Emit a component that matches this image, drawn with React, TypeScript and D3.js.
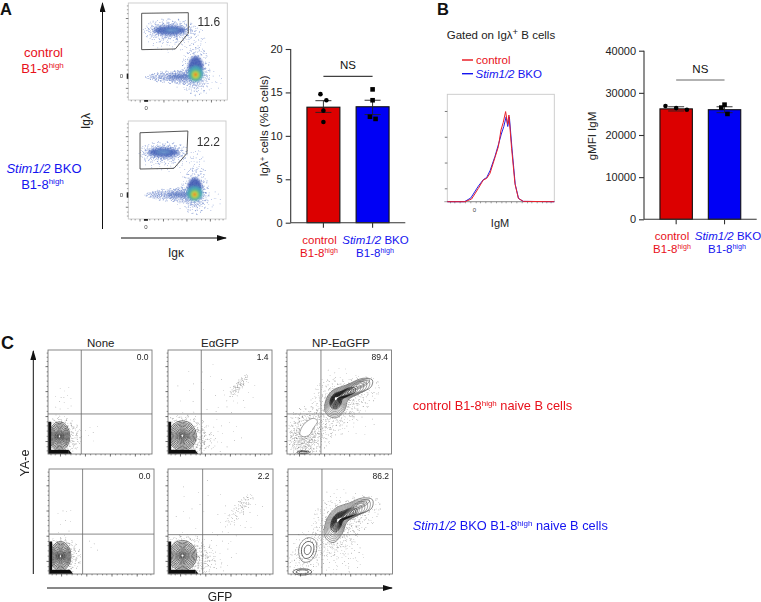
import React, { useEffect, useRef } from 'react';
import * as d3 from 'd3';

const RED = '#e8101a';
const BLUE = '#1414f0';
const FONT = '"Liberation Sans", Arial, sans-serif';

// bar chart values
const groups = ['control', 'Stim1/2 BKO'];
const iglMeans = [13.3, 13.35];
const iglLow = [12.7, 12.45];
const iglHigh = [14.05, 14.1];
const iglControlPts = [14.8, 14.1, 12.9, 11.6];
const iglBkoPts = [15.35, 14.1, 12.2, 11.95];
const iglControlShift = [-0.09, 0.09, 0, 0];
const iglBkoShift = [0, 0, -0.08, 0.09];
const iglTicks = [0, 5, 10, 15, 20];

const igmMeans = [26200, 26000];
const igmLow = [25700, 25300];
const igmHigh = [26700, 26700];
const igmControlPts = [26880, 26400, 26000];
const igmBkoPts = [27200, 26500, 25000];
const igmControlShift = [-0.33, 0, 0.33];
const igmBkoShift = [0, -0.1, 0.09];
const igmTicks = [0, 10000, 20000, 30000, 40000];

// histogram, x and y as % of the plot box
const histControl: [number, number][] = [[0, 0], [16.5, 0], [22.7, 2.5], [29, 12.4], [33.6, 20.2], [36.8, 21.7], [39.9, 26.4], [44.5, 41], [47.7, 51.2], [50.2, 66.8], [52.3, 73.9], [54.5, 83.9], [56.4, 72], [57.6, 80.7], [60.1, 49.7], [63.2, 17], [66.4, 3.1], [71, 0.3], [100, 0]];
const histBko: [number, number][] = [[0, 0], [16, 0], [22, 3.5], [29, 14.5], [33.6, 20.5], [36.8, 22.5], [40, 29], [44.5, 42], [48, 54], [50.5, 63], [52.8, 70], [55, 79], [56.5, 70], [58, 79], [60.5, 49], [63.5, 16], [66.6, 3], [71, 0.3], [100, 0]];

// flow plots: everything in % of the plot box
const speckle: [number, number][] = [
  [0.12, -0.08], [-0.31, 0.22], [0.45, 0.37], [-0.62, -0.41], [0.08, 0.71], [0.83, -0.27], [-0.19, -0.66], [0.33, -0.52], [-0.77, 0.18], [0.58, 0.06],
  [-0.05, 0.29], [0.21, 0.14], [-0.42, -0.13], [0.67, -0.59], [-0.53, 0.61], [0.02, -0.93], [0.91, 0.31], [-0.94, -0.16], [0.29, 0.88], [-0.27, 0.49],
  [0.39, -0.21], [-0.11, -0.34], [0.16, -0.41], [-0.68, 0.37], [0.51, 0.68], [-0.36, -0.84], [0.74, 0.12], [-0.14, 0.06], [0.06, 0.44], [-0.49, -0.28],
  [0.26, -0.72], [-0.85, -0.47], [0.62, -0.38], [-0.24, 0.83], [0.44, 0.19], [-0.58, 0.04], [0.11, -0.19], [-0.08, -0.52], [0.78, 0.54], [-0.72, 0.66],
  [0.35, 0.53], [-0.39, 0.33], [0.18, 0.31], [0.54, -0.11], [-0.17, -0.12], [-0.02, 0.13], [0.31, 0.02], [-0.29, -0.47], [0.47, -0.67], [-0.63, -0.69],
  [0.87, -0.06], [-0.46, 0.79], [0.14, 0.59], [-0.33, 0.09], [0.23, -0.29], [0.69, 0.33], [-0.56, -0.03], [0.04, -0.27], [-0.21, 0.38], [0.41, -0.43],
  [-0.09, 0.91], [0.59, 0.47], [-0.81, 0.02], [0.28, -0.91], [-0.44, 0.17], [0.09, 0.22], [-0.26, -0.22], [0.37, 0.27], [-0.12, 0.62], [0.49, -0.29],
];

type Cloud = [number, number, number, number, number, number, number];
type Blob = [number, number, number, number, number, string, number];

const gateTop: [number, number][] = [[13.5, 89.4], [60.6, 90], [60.6, 68.8], [47.5, 52.6], [13.5, 51.9]];
const gateBottom: [number, number][] = [[12, 88], [61, 89.8], [60, 67], [46.7, 51.7], [12, 51]];

// cx, cy, rx, ry, tilt, spin, count
const densityCloudsTop: Cloud[] = [
  [42, 72, 28, 13, 0, 0, 70], [42, 72, 23, 9, 0, 40, 70], [40, 62, 22, 13, 0, 80, 30], [42, 72, 19, 6.5, 0, 130, 70],
  [68, 30, 15, 26, 0, 20, 70], [68, 26, 12, 14, 0, 70, 70], [70, 50, 9, 28, 0, 110, 40], [45, 24, 24, 7, 0, 15, 70], [36, 24, 20, 4, 0, 150, 50], [56, 24, 16, 8, 0, 60, 70],
  [70, 20, 26, 14, 0, 100, 30], [60, 62, 10, 18, 0, 55, 18],
];
const densityCloudsBottom: Cloud[] = [
  [36, 68, 26, 12, 0, 10, 70], [36, 68, 21, 8, 0, 55, 70], [36, 60, 22, 12, 0, 95, 30], [36, 68, 17, 6, 0, 140, 70],
  [68, 28, 15, 24, 0, 30, 70], [68, 25, 12, 13, 0, 85, 70], [70, 47, 9, 26, 0, 120, 40], [45, 25, 24, 7, 0, 25, 70], [34, 25, 18, 4, 0, 165, 50], [56, 25, 16, 8, 0, 75, 70],
  [70, 20, 26, 14, 0, 115, 30], [58, 58, 10, 16, 0, 65, 18],
];
// cx, cy, rx, ry, tilt, colour, opacity
const blobsTop: Blob[] = [
  [42, 72, 16, 4.4, 0, '#3d5cb4', 0.8], [44, 72, 7, 2, 0, '#6ea0cf', 0.65],
  [52, 24, 12, 2.2, 0, '#4a68b8', 0.6], [68, 33, 7.5, 12, 0, '#3552ae', 0.85], [68, 27, 7.5, 8, 0, '#4aa5b8', 1],
  [68, 26, 5, 5.5, 0, '#66c46a', 1], [68, 26, 3, 3.2, 0, '#d8d83c', 1], [68, 26, 1.4, 1.5, 0, '#e8301e', 1],
];
const blobsBottom: Blob[] = [
  [36, 68, 15, 4.2, 0, '#3d5cb4', 0.8], [36, 68.5, 7, 1.9, 0, '#6ea0cf', 0.65],
  [52, 25, 12, 2.2, 0, '#4a68b8', 0.6], [68, 31, 7.5, 11, 0, '#3552ae', 0.85], [68, 26, 8, 7.5, 0, '#4aa5b8', 1],
  [68, 25, 5.2, 5, 0, '#66c46a', 1], [68, 25, 3, 3, 0, '#d8d83c', 1], [68, 25, 1.4, 1.4, 0, '#e8301e', 1],
];

const ringScales = [1, 0.9, 0.81, 0.72, 0.63, 0.54, 0.46, 0.39, 0.32, 0.26, 0.2, 0.15, 0.1];
const npRingScales = [0.92, 0.84, 0.76, 0.68, 0.6, 0.54, 0.49, 0.44, 0.4, 0.36, 0.32, 0.28, 0.24, 0.2, 0.16, 0.12];
const tailScales = [1, 0.72, 0.45];

const noneTopClouds: Cloud[] = [[11, 17, 22, 19, 0, 0, 70], [11, 17, 18, 17, 0, 50, 70], [8, 10, 14, 12, 0, 100, 40], [14, 50, 9, 20, 0, 30, 18], [42, 20, 10, 10, 0, 70, 6]];
const noneBottomClouds: Cloud[] = [[11, 17, 20, 19, 0, 20, 70], [11, 17, 16, 16, 0, 70, 70], [8, 10, 12, 12, 0, 120, 40], [14, 50, 10, 18, 0, 60, 10], [42, 28, 10, 8, 0, 90, 4]];
const eaTopClouds: Cloud[] = [
  [15, 17, 28, 22, 0, 10, 70], [14, 17, 22, 20, 0, 60, 70], [14, 15, 24, 15, 0, 110, 70], [18, 12, 30, 12, 0, 150, 40],
  [68, 66, 14, 4, 50, 0, 40], [68, 66, 9, 3, 50, 90, 20], [30, 62, 26, 30, 0, 40, 18], [50, 18, 22, 16, 0, 80, 19], [68, 55, 26, 14, 45, 130, 17],
];
const eaBottomClouds: Cloud[] = [
  [16, 17, 29, 22, 0, 30, 70], [14, 17, 24, 20, 0, 75, 70], [15, 14, 26, 15, 0, 125, 70], [20, 10, 32, 12, 0, 170, 40],
  [68, 62, 20, 6, 48, 20, 40], [72, 67, 8, 4, 48, 100, 20], [30, 58, 28, 34, 0, 55, 20], [48, 18, 18, 16, 0, 95, 20], [68, 52, 28, 16, 45, 145, 20],
];
const npTopClouds: Cloud[] = [
  [46, 50, 24, 24, 0, 0, 70], [62, 55, 30, 17, 30, 40, 70], [48, 42, 22, 24, 0, 90, 40], [22, 24, 20, 24, 30, 15, 70], [18, 18, 16, 20, 10, 70, 70], [14, 12, 13, 14, 0, 120, 60],
  [35, 30, 16, 16, 0, 160, 40], [60, 30, 26, 15, 0, 35, 20], [50, 72, 18, 12, 0, 110, 20],
];
const npBottomClouds: Cloud[] = [
  [46, 48, 24, 24, 0, 10, 70], [62, 55, 30, 17, 30, 50, 70], [45, 36, 20, 22, 0, 100, 40], [20, 24, 16, 18, 30, 25, 40], [14, 12, 14, 14, 0, 130, 40],
  [35, 30, 16, 14, 0, 170, 40], [50, 18, 24, 18, 0, 45, 40], [50, 72, 18, 10, 0, 120, 20],
];

const npTopOutline: [number, number][] = [[36.2, 42.3], [37.8, 53.5], [44.1, 61.5], [56.8, 66.3], [72.7, 72.8], [81.6, 71.2], [80.6, 64.7], [69.5, 58.3], [58.4, 51.9], [55.2, 42.3], [47.3, 34.9], [39.4, 36.9]];
const npBottomOutline: [number, number][] = [[34.5, 38.8], [37.7, 53.2], [45.7, 62.8], [58.5, 67.6], [71.2, 72.4], [80.8, 70.8], [80.2, 62.8], [68, 56.4], [56.8, 50], [52, 38.8], [44, 30.1], [37.7, 32.4]];
const npTopFocus: [number, number] = [46.7, 53.5];
const npBottomFocus: [number, number] = [48.2, 51.6];
const npTopHole: [number, number][] = [[13, 23], [17.1, 29.5], [25.1, 34.3], [29.2, 31.7], [25.1, 24.7], [21.3, 18.3], [15.6, 16.7], [12.4, 18.9]];
const npBottomHole: [number, number][] = [[13, 20], [14, 27], [19, 31], [24, 29], [24.5, 22], [21, 16], [16, 15]];

const flowMajor = [12, 36, 60, 84];
const flowMinor = [3, 7, 17, 22, 27, 31, 41, 46, 51, 55, 65, 70, 75, 79, 89, 93, 97];

type Box = { x0: number; x1: number; y0: number; y1: number };

// each cloud reuses the speckle list a few times, turned by its spin
const speckleDots = (c: Cloud) => {
  const [cx, cy, rx, ry, tilt, spin, count] = c;
  const t = (tilt * Math.PI) / 180;
  const layers = d3.range(Math.ceil(count / 20));
  return layers.flatMap(k => {
    const s = ((spin + k * 37) * Math.PI) / 180;
    return speckle.slice(0, count).map(([dx, dy]) => {
      const px = (dx * Math.cos(s) - dy * Math.sin(s)) * rx;
      const py = (dx * Math.sin(s) + dy * Math.cos(s)) * ry;
      return [cx + px * Math.cos(t) - py * Math.sin(t), cy + px * Math.sin(t) + py * Math.cos(t)];
    });
  });
};

const boxScales = (b: Box) => ({
  x: d3.scaleLinear().domain([0, 100]).range([b.x0, b.x1]),
  y: d3.scaleLinear().domain([0, 100]).range([b.y1, b.y0]),
});

const closed = d3.line().curve(d3.curveCatmullRomClosed.alpha(0.5));

const Frame = ({ box, stroke, tickColor }: { box: Box; stroke: string; tickColor: string }) => {
  const { x, y } = boxScales(box);
  return (
    <g>
      <rect x={box.x0} y={box.y0} width={box.x1 - box.x0} height={box.y1 - box.y0} fill="none" stroke={stroke} strokeWidth={0.9} />
      {flowMajor.map(t => <line key={t} x1={x(t)} x2={x(t)} y1={box.y1} y2={box.y1 + 2.5} stroke={tickColor} strokeWidth={0.7} />)}
      {flowMinor.map(t => <line key={t} x1={x(t)} x2={x(t)} y1={box.y1} y2={box.y1 + 1.4} stroke={tickColor} strokeWidth={0.5} />)}
      {flowMajor.map(t => <line key={t} y1={y(t)} y2={y(t)} x1={box.x0} x2={box.x0 - 2.5} stroke={tickColor} strokeWidth={0.7} />)}
      {flowMinor.map(t => <line key={t} y1={y(t)} y2={y(t)} x1={box.x0} x2={box.x0 - 1.4} stroke={tickColor} strokeWidth={0.5} />)}
    </g>
  );
};

const Dots = ({ box, clouds, fill, size, opacity }: { box: Box; clouds: Cloud[]; fill: string; size: number; opacity: number }) => {
  const { x, y } = boxScales(box);
  const d = clouds.flatMap(c => speckleDots(c))
    .filter(p => p[0] >= 0 && p[0] <= 100 && p[1] >= 0 && p[1] <= 100)
    .map(p => `M${x(p[0]).toFixed(1)},${y(p[1]).toFixed(1)}h${size}v${size}h${-size}z`)
    .join('');
  return <path d={d} fill={fill} opacity={opacity} />;
};

const DensityPlot = ({ box, clouds, blobs, gate, label }: { box: Box; clouds: Cloud[]; blobs: Blob[]; gate: [number, number][]; label: string }) => {
  const { x, y } = boxScales(box);
  const gatePath = d3.line().x(d => x(d[0])).y(d => y(d[1])).curve(d3.curveLinearClosed)(gate) as string;
  return (
    <g>
      <Frame box={box} stroke="#c9c9c9" tickColor="#444" />
      <Dots box={box} clouds={clouds} fill="#4d6cc0" size={0.7} opacity={0.7} />
      <g filter="url(#soft)">
        {blobs.map((b, i) => (
          <ellipse key={i} cx={x(b[0])} cy={y(b[1])} rx={x(b[2]) - x(0)} ry={y(0) - y(b[3])} fill={b[5]} opacity={b[6]} />
        ))}
      </g>
      <path d={gatePath} fill="none" stroke="#444" strokeWidth={0.9} />
      <text x={x(70)} y={y(gate[0][1]) + 13} fontSize={12} fill="#333" fontFamily={FONT}>{label}</text>
      <text x={box.x0 - 7} y={y(24.5) + 2} fontSize={6} textAnchor="middle" fill="#444" fontFamily={FONT}>0</text>
      <text x={x(18)} y={box.y1 + 10} fontSize={6} textAnchor="middle" fill="#444" fontFamily={FONT}>0</text>
      <rect x={box.x0 - 1.6} y={y(24.5) - 2.5} width={1.6} height={5} fill="#222" />
      <rect x={x(16)} y={box.y1} width={4} height={1.8} fill="#222" />
    </g>
  );
};

// rings around the negative population in the lower left corner
const CornerRings = ({ box, cx, cy, rx, ry, barW }: { box: Box; cx: number; cy: number; rx: number; ry: number; barW: number }) => {
  const { x, y } = boxScales(box);
  return (
    <g>
      {ringScales.map(s => (
        <ellipse key={s} cx={x(cx)} cy={y(cy)} rx={x(rx * s) - x(0)} ry={y(0) - y(ry * s)} fill={s === 1 ? 'rgba(255,255,255,0.45)' : 'none'} stroke="#1c1c1c" strokeWidth={0.6} />
      ))}
      <rect x={x(0)} y={y(31)} width={x(3) - x(0)} height={y(0) - y(31)} fill="#111" />
      <rect x={x(0)} y={y(4)} width={x(barW) - x(0)} height={y(0) - y(4)} fill="#111" />
      <path d={`M${x(barW)},${y(4)}L${x(barW + 3)},${y(0)}L${x(barW)},${y(0)}Z`} fill="#111" />
    </g>
  );
};

const NpRings = ({ box, outline, focus, tail, hole, foot, holeRings }: { box: Box; outline: [number, number][]; focus: [number, number]; tail: number[]; hole: [number, number][]; foot: number[]; holeRings: boolean }) => {
  const { x, y } = boxScales(box);
  const line = (pts: [number, number][]) => closed(pts.map(p => [x(p[0]), y(p[1])] as [number, number])) as string;
  const cen = d3.polygonCentroid(hole);
  return (
    <g fill="none" stroke="#2a2a2a">
      <path d={line(outline)} fill="rgba(255,255,255,0.85)" strokeWidth={0.55} />
      {npRingScales.map(s => (
        <path key={s} d={line(outline.map(p => [focus[0] + (p[0] - focus[0]) * s, focus[1] + (p[1] - focus[1]) * s]))} strokeWidth={s < 0.6 ? 0.75 : 0.5} stroke={s < 0.6 ? '#161616' : '#4a4a4a'} />
      ))}
      {tailScales.map(s => (
        <ellipse key={s} cx={x(tail[0])} cy={y(tail[1])} rx={x(tail[2] * s) - x(0)} ry={y(0) - y(tail[3] * s)} transform={`rotate(-26 ${x(tail[0])} ${y(tail[1])})`} strokeWidth={0.45} stroke="#4a4a4a" />
      ))}
      <circle cx={x(focus[0])} cy={y(focus[1])} r={1} fill="#fff" stroke="none" />
      <path d={line(hole)} fill="#fff" strokeWidth={holeRings ? 0.7 : 0.4} />
      {holeRings && (
        <g>
          <path d={line(hole.map(p => [cen[0] + (p[0] - cen[0]) * 1.45, cen[1] + (p[1] - cen[1]) * 1.45]))} strokeWidth={0.5} />
          <path d={line(hole.map(p => [cen[0] + (p[0] - cen[0]) * 0.55, cen[1] + (p[1] - cen[1]) * 0.55]))} strokeWidth={0.7} />
        </g>
      )}
      {[1, 0.65].map(s => (
        <ellipse key={s} cx={x(foot[0])} cy={y(foot[1])} rx={x(foot[2] * s) - x(0)} ry={y(0) - y(foot[3] * s)} strokeWidth={0.7} />
      ))}
    </g>
  );
};

const BarAxis = ({ yScale, band, ticks }: { yScale: any; band: any; ticks: number[] }) => {
  const ref = useRef<SVGGElement>(null);
  useEffect(() => {
    const g = d3.select(ref.current);
    g.selectAll('*').remove();
    const [xl, xr] = band.range();
    const left = g.append('g').attr('transform', `translate(${xl},0)`)
      .call(d3.axisLeft(yScale).tickValues(ticks).tickSize(5).tickSizeOuter(0).tickFormat(d3.format('d')));
    const bottom = g.append('g').attr('transform', `translate(0,${yScale(0)})`)
      .call(d3.axisBottom(band).tickSize(5).tickSizeOuter(0).tickFormat(() => ''));
    left.selectAll('text').attr('font-size', 11).attr('font-family', FONT).attr('fill', '#222');
    g.selectAll('path,line').attr('stroke', '#333').attr('stroke-width', 1.1);
    left.select('.domain').attr('d', `M0,${yScale(ticks[0])}V${yScale(ticks[ticks.length - 1])}`);
    bottom.select('.domain').attr('d', `M${xl},0H${xr}`);
  }, [yScale, band, ticks]);
  return <g ref={ref} />;
};

const BarPanel = (p: {
  range: [number, number]; yRange: [number, number]; domain: [number, number]; ticks: number[];
  means: number[]; low: number[]; high: number[]; controlPts: number[]; bkoPts: number[]; controlShift: number[]; bkoShift: number[];
  nsY: number; nsColor: string;
}) => {
  const band = d3.scaleBand<string>().domain(groups).range(p.range).paddingInner(0.33).paddingOuter(0.33);
  const yScale = d3.scaleLinear().domain(p.domain).range(p.yRange);
  const w = band.bandwidth();
  const cx = (g: string) => (band(g) as number) + w / 2;
  return (
    <g>
      {groups.map((g, i) => (
        <rect key={g} x={band(g)} y={yScale(p.means[i])} width={w} height={yScale(0) - yScale(p.means[i])} fill={i === 0 ? '#dc0000' : '#0000f5'} stroke="#111" strokeWidth={1.1} />
      ))}
      <BarAxis yScale={yScale} band={band} ticks={p.ticks} />
      {groups.map((g, i) => (
        <g key={g} stroke="#222" strokeWidth={0.9}>
          <line x1={cx(g)} x2={cx(g)} y1={yScale(p.low[i])} y2={yScale(p.high[i])} />
          <line x1={cx(g) - 8} x2={cx(g) + 8} y1={yScale(p.low[i])} y2={yScale(p.low[i])} />
          <line x1={cx(g) - 8} x2={cx(g) + 8} y1={yScale(p.high[i])} y2={yScale(p.high[i])} />
        </g>
      ))}
      {p.controlPts.map((v, i) => (
        <circle key={i} cx={cx(groups[0]) + p.controlShift[i] * w} cy={yScale(v)} r={2.3} fill="#000" />
      ))}
      {p.bkoPts.map((v, i) => (
        <rect key={i} x={cx(groups[1]) + p.bkoShift[i] * w - 2.3} y={yScale(v) - 2.3} width={4.6} height={4.6} fill="#000" />
      ))}
      <line x1={cx(groups[0])} x2={cx(groups[1])} y1={p.nsY} y2={p.nsY} stroke={p.nsColor} strokeWidth={1} />
      <text x={(cx(groups[0]) + cx(groups[1])) / 2} y={p.nsY - 7} textAnchor="middle" fontSize={11.5} fontFamily={FONT} fill="#111">NS</text>
    </g>
  );
};

const StimLabel = ({ x, y, size, anchor = 'middle' }: { x: number; y: number; size: number; anchor?: string }) => (
  <text x={x} y={y} fontSize={size} fill={BLUE} fontFamily={FONT} textAnchor={anchor}>
    <tspan fontStyle="italic">Stim1/2</tspan> BKO
  </text>
);

const HighLabel = ({ x, y, size, fill }: { x: number; y: number; size: number; fill: string }) => (
  <text x={x} y={y} fontSize={size} fill={fill} fontFamily={FONT} textAnchor="middle">
    B1-8<tspan dy={-size * 0.36} fontSize={size * 0.62}>high</tspan>
  </text>
);

const Arrow = ({ x1, y1, x2, y2 }: { x1: number; y1: number; x2: number; y2: number }) => (
  <line x1={x1} y1={y1} x2={x2} y2={y2} stroke="#111" strokeWidth={1} markerEnd="url(#arrow)" />
);

const cBoxes: Box[][] = [
  [{ x0: 48, x1: 152, y0: 350, y1: 454 }, { x0: 168, x1: 272, y0: 350, y1: 454 }, { x0: 287, x1: 391.5, y0: 350, y1: 454 }],
  [{ x0: 49, x1: 154, y0: 469, y1: 574 }, { x0: 168, x1: 273, y0: 469, y1: 574 }, { x0: 288, x1: 392.5, y0: 469, y1: 574 }],
];
const cGateX = [[32, 32, 32.5], [32, 33, 32.5]];
const cGateY = [[38.5, 38.5, 38.5], [38, 37.5, 37.5]];
const cPercents = [['0.0', '1.4', '89.4'], ['0.0', '2.2', '86.2']];
const cTitles = ['None', 'E\u03b1GFP', 'NP-E\u03b1GFP'];

export default function App() {
  const boxA1: Box = { x0: 128.3, x1: 227.3, y0: 3, y1: 100 };
  const boxA2: Box = { x0: 128.3, x1: 226, y0: 121, y1: 219 };
  const histBox: Box = { x0: 447.3, x1: 554.3, y0: 94.3, y1: 201.7 };
  const hs = boxScales(histBox);
  const histLine = d3.line().x(d => hs.x(d[0])).y(d => hs.y(d[1])).curve(d3.curveLinear);

  return (
    <svg width={761} height={602} style={{ position: 'absolute', left: 0, top: 0, background: '#fff' }} fontFamily={FONT}>
      <defs>
        <filter id="soft" x="-30%" y="-30%" width="160%" height="160%"><feGaussianBlur stdDeviation={1.1} /></filter>
        <filter id="lens" x="-5%" y="-5%" width="110%" height="110%"><feGaussianBlur stdDeviation={0.3} /></filter>
        <marker id="arrow" viewBox="0 0 10 6" refX={9} refY={3} markerWidth={10} markerHeight={6} orient="auto" markerUnits="userSpaceOnUse">
          <path d="M0,0L10,3L0,6Z" fill="#111" />
        </marker>
      </defs>

      {/* panel labels */}
      <text x={0} y={15} fontSize={16.5} fontWeight="bold" fill="#111">A</text>
      <text x={437} y={15} fontSize={16.5} fontWeight="bold" fill="#111">B</text>
      <text x={1} y={349} fontSize={18} fontWeight="bold" fill="#111">C</text>

      {/* panel A */}
      <text x={43.5} y={57} fontSize={13} fill={RED} textAnchor="middle">control</text>
      <HighLabel x={42.5} y={73} size={13} fill={RED} />
      <StimLabel x={44} y={173} size={13} />
      <HighLabel x={42.5} y={189} size={13} fill={BLUE} />
      <g filter="url(#lens)">
        <DensityPlot box={boxA1} clouds={densityCloudsTop} blobs={blobsTop} gate={gateTop} label="11.6" />
        <DensityPlot box={boxA2} clouds={densityCloudsBottom} blobs={blobsBottom} gate={gateBottom} label="12.2" />
      </g>
      <Arrow x1={102.5} y1={229} x2={102.5} y2={3} />
      <Arrow x1={121} y1={238} x2={226} y2={238} />
      <text transform="translate(90,121) rotate(-90)" fontSize={12} textAnchor="middle" fill="#222">Ig{'\u03bb'}</text>
      <text x={176} y={257} fontSize={12} textAnchor="middle" fill="#222">Ig{'\u03ba'}</text>

      <BarPanel range={[290.7, 405.3]} yRange={[222.7, 49]} domain={[0, 20]} ticks={iglTicks}
        means={iglMeans} low={iglLow} high={iglHigh} controlPts={iglControlPts} bkoPts={iglBkoPts}
        controlShift={iglControlShift} bkoShift={iglBkoShift} nsY={76.3} nsColor="#111" />
      <text transform="translate(268,126) rotate(-90)" fontSize={11.5} textAnchor="middle" fill="#222">
        Ig{'\u03bb'}<tspan dy={-3} fontSize={8}>+</tspan><tspan dy={3}> cells (%B cells)</tspan>
      </text>
      <text x={319.5} y={244} fontSize={11.5} fill={RED} textAnchor="middle">control</text>
      <HighLabel x={319} y={257} size={11.5} fill={RED} />
      <StimLabel x={375.5} y={244} size={11.5} />
      <HighLabel x={375} y={257} size={11.5} fill={BLUE} />

      {/* panel B */}
      <text x={446.7} y={38.5} fontSize={11.5} fill="#222">Gated on Ig{'\u03bb'}<tspan dy={-4} fontSize={9.5}>+</tspan><tspan dy={4}> B cells</tspan></text>
      <line x1={462} x2={473} y1={60} y2={60} stroke={RED} strokeWidth={1.4} />
      <text x={476} y={63.5} fontSize={11.5} fill={RED}>control</text>
      <line x1={462} x2={473} y1={73.7} y2={73.7} stroke={BLUE} strokeWidth={1.4} />
      <StimLabel x={475.5} y={78} size={11.5} anchor="start" />
      <g filter="url(#lens)">
        <rect x={histBox.x0} y={histBox.y0} width={histBox.x1 - histBox.x0} height={histBox.y1 - histBox.y0} fill="none" stroke="#c9c9c9" strokeWidth={0.9} />
        <g stroke="#444">
          {flowMajor.map(t => <line key={t} y1={hs.y(t)} y2={hs.y(t)} x1={histBox.x0} x2={histBox.x0 - 2.5} strokeWidth={0.7} />)}
          {flowMajor.concat(flowMinor).map(t => <line key={t} x1={hs.x(t)} x2={hs.x(t)} y1={histBox.y1} y2={histBox.y1 + 1.6} strokeWidth={0.5} />)}
        </g>
        <line x1={histBox.x0 - 3} x2={histBox.x1} y1={histBox.y1} y2={histBox.y1} stroke="#777" strokeWidth={0.7} />
        <path d={histLine(histBko) as string} fill="none" stroke="#2222e8" strokeWidth={1} />
        <path d={histLine(histControl) as string} fill="none" stroke="#e8202a" strokeWidth={1} />
      </g>
      <text x={474.3} y={212} fontSize={6} textAnchor="middle" fill="#444">0</text>
      <text x={500} y={226.5} fontSize={11} textAnchor="middle" fill="#222">IgM</text>

      <BarPanel range={[644, 756.7]} yRange={[219.3, 50.7]} domain={[0, 40000]} ticks={igmTicks}
        means={igmMeans} low={igmLow} high={igmHigh} controlPts={igmControlPts} bkoPts={igmBkoPts}
        controlShift={igmControlShift} bkoShift={igmBkoShift} nsY={80} nsColor="#666" />
      <text transform="translate(596,136) rotate(-90)" fontSize={11.5} textAnchor="middle" fill="#222">gMFI IgM</text>
      <text x={672} y={240} fontSize={11.5} fill={RED} textAnchor="middle">control</text>
      <HighLabel x={672} y={253} size={11.5} fill={RED} />
      <StimLabel x={728} y={240} size={11.5} />
      <HighLabel x={727} y={253} size={11.5} fill={BLUE} />

      {/* panel C */}
      {cTitles.map((t, i) => (
        <text key={t} x={[100.7, 220, 341][i]} y={346.5} fontSize={11.5} textAnchor="middle" fill="#222">{t}</text>
      ))}
      <g filter="url(#lens)">
        {cBoxes.map((row, r) => row.map((box, c) => {
          const { x, y } = boxScales(box);
          const clouds = [[noneTopClouds, eaTopClouds, npTopClouds], [noneBottomClouds, eaBottomClouds, npBottomClouds]][r][c];
          return (
            <g key={`${r}-${c}`}>
              <Dots box={box} clouds={clouds} fill="#3a3a3a" size={0.6} opacity={0.6} />
              {c === 0 && <CornerRings box={box} cx={11} cy={17} rx={10} ry={14} barW={20} />}
              {c === 1 && <CornerRings box={box} cx={13.8} cy={17.5} rx={13.5} ry={14.5} barW={26} />}
              {c === 2 && r === 0 && <NpRings box={box} outline={npTopOutline} focus={npTopFocus} tail={[70, 67, 10, 3.4]} hole={npTopHole} foot={[15.5, 1.6, 6, 1.5]} holeRings={false} />}
              {c === 2 && r === 1 && <NpRings box={box} outline={npBottomOutline} focus={npBottomFocus} tail={[69, 66, 10, 3.2]} hole={npBottomHole} foot={[13.7, 2, 9, 3]} holeRings={true} />}
              <Frame box={box} stroke="#7a7a7a" tickColor="#333" />
              <line x1={x(cGateX[r][c])} x2={x(cGateX[r][c])} y1={box.y0} y2={box.y1} stroke="#6a6a6a" strokeWidth={0.8} />
              <line x1={box.x0} x2={box.x1} y1={y(cGateY[r][c])} y2={y(cGateY[r][c])} stroke="#6a6a6a" strokeWidth={0.8} />
              <text x={box.x1 - 3.5} y={box.y0 + 9.5} fontSize={8.5} textAnchor="end" fill="#222">{cPercents[r][c]}</text>
            </g>
          );
        }))}
      </g>
      <Arrow x1={33.3} y1={574} x2={33.3} y2={351} />
      <Arrow x1={47} y1={588} x2={392} y2={588} />
      <text transform="translate(29,463) rotate(-90)" fontSize={12.5} textAnchor="middle" fill="#222">YA-e</text>
      <text x={220} y={600.5} fontSize={12} textAnchor="middle" fill="#222">GFP</text>

      <text x={412.7} y={410} fontSize={12.8} fill={RED}>
        control B1-8<tspan dy={-4} fontSize={8}>high</tspan><tspan dy={4}> naive B cells</tspan>
      </text>
      <text x={412.7} y={530} fontSize={12.8} fill={BLUE}>
        <tspan fontStyle="italic">Stim1/2</tspan> BKO B1-8<tspan dy={-4} fontSize={8}>high</tspan><tspan dy={4}>{'\u00a0'}naive B cells</tspan>
      </text>
    </svg>
  );
}
